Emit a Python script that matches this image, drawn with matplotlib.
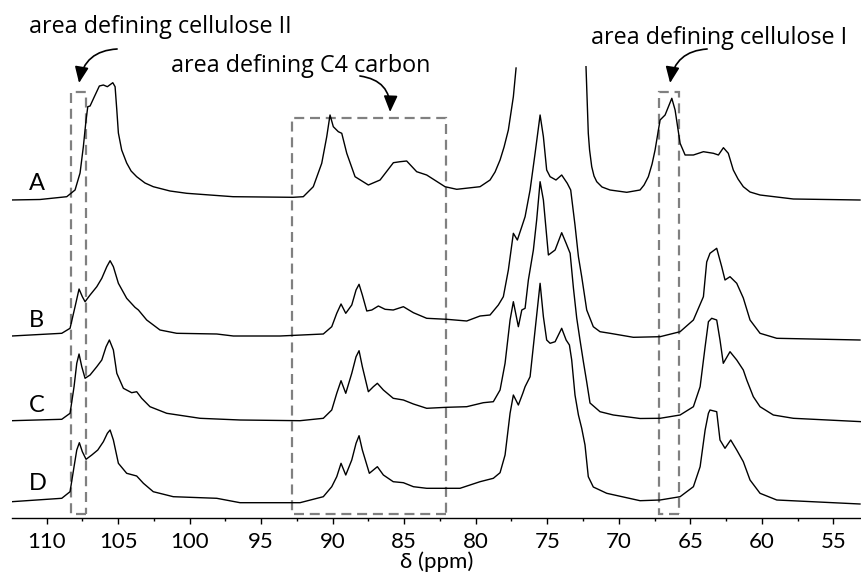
import numpy as np
import matplotlib
matplotlib.use('Agg')
import matplotlib.pyplot as plt
from matplotlib.patches import Rectangle
from matplotlib.ticker import MultipleLocator

plt.rcParams['font.family'] = ['Lato', 'DejaVu Sans']

# chemical shift (ppm) and intensity above own baseline (a.u.)
a_ppm = [112.57, 110.47, 108.60, 108.02, 107.67, 107.44, 107.25, 107.13, 106.97, 106.67,
         106.32, 106.04, 105.76, 105.38, 105.22, 105.10, 104.99, 104.76, 104.41, 104.10,
         103.71, 103.13, 102.55, 101.38, 100.21, 96.97, 92.78, 92.06, 91.36, 90.77,
         90.42, 90.19, 89.96, 89.61, 89.37, 89.02, 88.44, 87.51, 86.69, 85.76,
         85.29, 84.83, 84.13, 83.43, 82.15, 81.33, 79.70, 79.00, 78.65, 78.30,
         78.02, 77.72, 77.37, 77.18, np.nan,
         72.29, 72.13, 72.04, 71.89, 71.73, 71.54, 71.17, 70.61, 69.44, 68.51,
         68.23, 67.93, 67.67, 67.46, 67.11, 66.76, 66.29, 66.06, 65.71, 65.36,
         64.78, 64.08, 63.38, 63.03, 62.68, 62.34, 61.99, 61.66, 61.29, 60.82,
         60.12, 57.79, 53.13]
a_int = [0, 0.5, 3.3, 10, 27, 53.3, 80, 93.3, 94, 103.3,
         114, 115, 113.3, 117.3, 113.3, 90, 67, 50, 37, 29,
         23.3, 17, 13.3, 9, 6.7, 3.3, 2.7, 3.3, 13.3, 36.7,
         63.3, 85, 73.3, 68.3, 66.7, 46.7, 23.3, 15, 20, 37.3,
         38.3, 39, 28.3, 25, 13.3, 10.7, 13.3, 20, 28, 40,
         53, 70, 103.3, 132, np.nan,
         133.3, 66.7, 50, 33.3, 24, 18.3, 13, 10, 7.7, 10,
         15, 23.3, 36, 50, 80, 85, 101.7, 90, 56.7, 45,
         45, 48.3, 46.7, 45, 52.3, 46.7, 30, 21, 13.3, 8,
         5, 1, 0]

b_ppm = [112.45, 108.95, 108.37, 108.02, 107.74, 107.51, 107.32, 106.97, 106.50, 106.15,
         105.80, 105.57, 105.34, 104.99, 104.41, 103.83, 103.59, 103.01, 102.08, 100.91,
         98.11, 96.95, 93.69, 90.66, 90.07, 89.72, 89.42, 89.09, 88.67, 88.37,
         88.16, 87.93, 87.62, 87.27, 86.81, 86.34, 85.77, 85.06, 84.36, 83.43,
         82.03, 80.63, 79.70, 79.00, 78.42, 78.07, 77.72, 77.37, 77.09, 76.78,
         76.55, 76.20, 75.85, 75.50, 75.27, 75.04, 74.80, 74.39, 73.99, 73.60,
         73.36, 73.06, 72.82, 72.59, 72.24, 71.78, 71.31, 70.61, 68.98, 67.11,
         65.71, 64.78, 64.08, 63.85, 63.62, 63.15, 62.80, 62.57, 62.22, 61.75,
         61.29, 60.82, 60.12, 58.95, 53.13]
b_int = [0, 2.7, 7.7, 29.3, 47, 39.3, 34.3, 41, 49.3, 57.7,
         69.3, 75.3, 69.3, 52.7, 37.7, 28.7, 26, 16, 6, 2.7,
         2, 0, 0, 2, 9.3, 22.7, 32, 22.7, 31, 46,
         51.7, 41, 25, 26, 30, 26.7, 26, 29.3, 23.3, 17.7,
         16.7, 15, 20, 21, 31, 39.3, 66, 102.7, 96, 109.3,
         119.3, 146, 182.7, 221, 199.3, 166, 159.3, 156, 161, 152.7,
         146, 111, 79.3, 59.3, 26, 9.3, 4.3, 2.7, -1.3, -0.7,
         4.3, 16, 39.3, 74, 82.7, 87.7, 69.3, 56, 59.3, 52.7,
         38, 16, 2.7, -2.3, -4]

c_ppm = [112.45, 108.95, 108.37, 108.09, 107.90, 107.74, 107.55, 107.32, 106.97, 106.50,
         106.15, 105.85, 105.62, 105.34, 105.10, 104.64, 104.06, 103.71, 103.36, 102.78,
         101.61, 99.28, 96.48, 92.29, 90.66, 90.07, 89.72, 89.42, 89.09, 88.67,
         88.37, 88.16, 87.93, 87.51, 87.16, 86.88, 86.46, 85.77, 85.06, 84.36,
         83.43, 82.03, 80.63, 79.47, 78.77, 78.30, 77.95, 77.60, 77.37, 77.02,
         76.78, 76.55, 76.32, 75.97, 75.74, 75.50, 75.27, 74.92, 74.45, 73.99,
         73.68, 73.40, 73.17, 72.94, 72.71, 72.47, 72.24, 72.01, 71.31, 70.38,
         68.51, 67.11, 65.71, 64.78, 64.31, 63.96, 63.73, 63.50, 63.15, 62.92,
         62.69, 62.22, 61.75, 61.29, 61.05, 60.59, 60.12, 59.19, 57.79, 52.99]
c_int = [0, 1.4, 7.4, 34, 57.4, 66.7, 54, 42.4, 45.7, 54,
         60.7, 74, 80.7, 70.7, 47.4, 32.4, 28, 29, 22.4, 14,
         7.4, 2.4, 0.7, 0, 2.4, 10.7, 27.4, 40, 27.4, 47.4,
         64, 70, 54, 29, 34, 37.4, 30.7, 22.4, 20.7, 16.7,
         12.4, 13.4, 14, 18, 19, 30.7, 57.4, 100.7, 119, 94,
         110.7, 112.4, 140.7, 170.7, 200.7, 239, 220.7, 165.7, 170.7, 188,
         177.4, 167.4, 132.7, 102.7, 80.7, 58.7, 38.7, 17.7, 9, 5.7,
         2.2, 2.4, 5.7, 14, 34, 74, 99, 102.4, 100.7, 80.7,
         57.4, 69, 60.7, 50.7, 40.7, 24, 14, 5.7, 2.4, -1]

d_ppm = [112.45, 108.95, 108.37, 108.09, 107.90, 107.72, 107.51, 107.25, 106.85, 106.43,
         106.04, 105.76, 105.57, 105.34, 104.99, 104.41, 103.71, 103.24, 102.55, 101.15,
         98.11, 96.48, 92.29, 90.66, 90.07, 89.72, 89.42, 89.09, 88.67, 88.37,
         88.16, 87.93, 87.44, 87.16, 86.88, 86.46, 85.77, 85.06, 84.36, 83.43,
         82.03, 81.10, 79.70, 78.77, 78.30, 77.95, 77.60, 77.37, 77.02, 76.71,
         76.55, 76.20, 75.85, 75.50, 75.27, 75.04, 74.80, 74.45, 73.99, 73.68,
         73.45, 73.29, 73.06, 72.82, 72.59, 72.36, 72.13, 71.78, 70.84, 68.51,
         67.11, 65.71, 64.78, 64.31, 63.96, 63.73, 63.62, 63.15, 62.92, 62.57,
         62.17, 61.75, 61.29, 60.82, 60.12, 58.95, 53.13]
d_int = [0, 3.4, 10, 35, 51.7, 59, 50, 42.4, 46.7, 51.7,
         60, 68.4, 71.7, 61.7, 38.4, 28.4, 25.7, 18.4, 10, 5,
         3.4, -1, -1, 5, 15, 25, 38.4, 26.7, 41.7, 58.4,
         66, 51.7, 28.4, 31.7, 35, 26.7, 20, 19, 15, 13.4,
         13.4, 13.4, 20, 23.4, 29, 46.7, 88.4, 106.7, 96.7, 108.4,
         115, 125, 171.7, 218.4, 185, 161.7, 158.4, 160, 173.4, 161.7,
         156.7, 141.7, 106.7, 86.7, 73.4, 56.7, 25, 14.7, 8.4, 1,
         1.7, 5, 15, 35, 71.7, 88.4, 91.7, 90, 61.7, 53.4,
         61.7, 51.7, 40, 21.7, 8.4, 1.7, -2.3]

spectra = [('A', a_ppm, a_int), ('B', b_ppm, b_int), ('C', c_ppm, c_int), ('D', d_ppm, d_int)]
offsets = {'A': 318, 'B': 182, 'C': 97.3, 'D': 16.3}
label_y = {'A': 328, 'B': 190.7, 'C': 106.3, 'D': 28}

# regions marked with dashed boxes: (ppm_left, ppm_right, top)
regions = [(108.3, 107.25, 426.3), (92.83, 82.08, 399.7), (67.16, 65.76, 426.3)]

fig = plt.figure(figsize=(8.62, 5.76), dpi=100)
ax = fig.add_axes([11.7 / 862, 1 - 518 / 576, 850.3 / 862, 518 / 576])

for name, ppm, inten in spectra:
    ax.plot(ppm, np.array(inten) + offsets[name], color='black', lw=1.0,
            solid_joinstyle='round')
    ax.text(111.24, label_y[name], name, fontsize=17, ha='left', va='baseline')

for left, right, top in regions:
    ax.add_patch(Rectangle((right, 4.5), left - right, top - 4.5, fill=False,
                           edgecolor='#808080', lw=1.6, ls=(0, (4.5, 2.6))))

note_font = dict(fontsize=16.8, family=['Open Sans', 'DejaVu Sans'], ha='left', va='baseline')
ax.text(111.24, 485, 'area defining cellulose II', **note_font)
ax.text(101.33, 446.3, 'area defining C4 carbon', **note_font)
ax.text(71.96, 474, 'area defining cellulose I', **note_font)

arrow_kw = dict(arrowstyle='-|>,head_length=0.7,head_width=0.3', color='black',
                lw=1.2, shrinkA=0, shrinkB=0, mutation_scale=14)
ax.annotate('', xy=(107.74, 435), xytext=(105.08, 469),
            arrowprops=dict(connectionstyle='arc3,rad=0.4', **arrow_kw))
ax.annotate('', xy=(85.99, 406), xytext=(88.1, 442),
            arrowprops=dict(connectionstyle='arc3,rad=-0.45', **arrow_kw))
ax.annotate('', xy=(66.41, 435), xytext=(63.82, 469),
            arrowprops=dict(connectionstyle='arc3,rad=0.4', **arrow_kw))

ax.set_xlim(112.45, 52.99)
ax.set_ylim(0, 518)
for side in ['top', 'left', 'right']:
    ax.spines[side].set_visible(False)
ax.spines['bottom'].set_linewidth(1.0)
ax.set_yticks([])
ax.xaxis.set_major_locator(MultipleLocator(5))
ax.xaxis.set_minor_locator(MultipleLocator(2.5))
ax.tick_params(axis='x', which='major', length=4, width=1, labelsize=16, pad=6)
ax.tick_params(axis='x', which='minor', length=2, width=1)
ax.set_xlabel('δ (ppm)', fontsize=16, labelpad=0)
ax.patch.set_alpha(0)

fig.savefig('out.png', dpi=100)
